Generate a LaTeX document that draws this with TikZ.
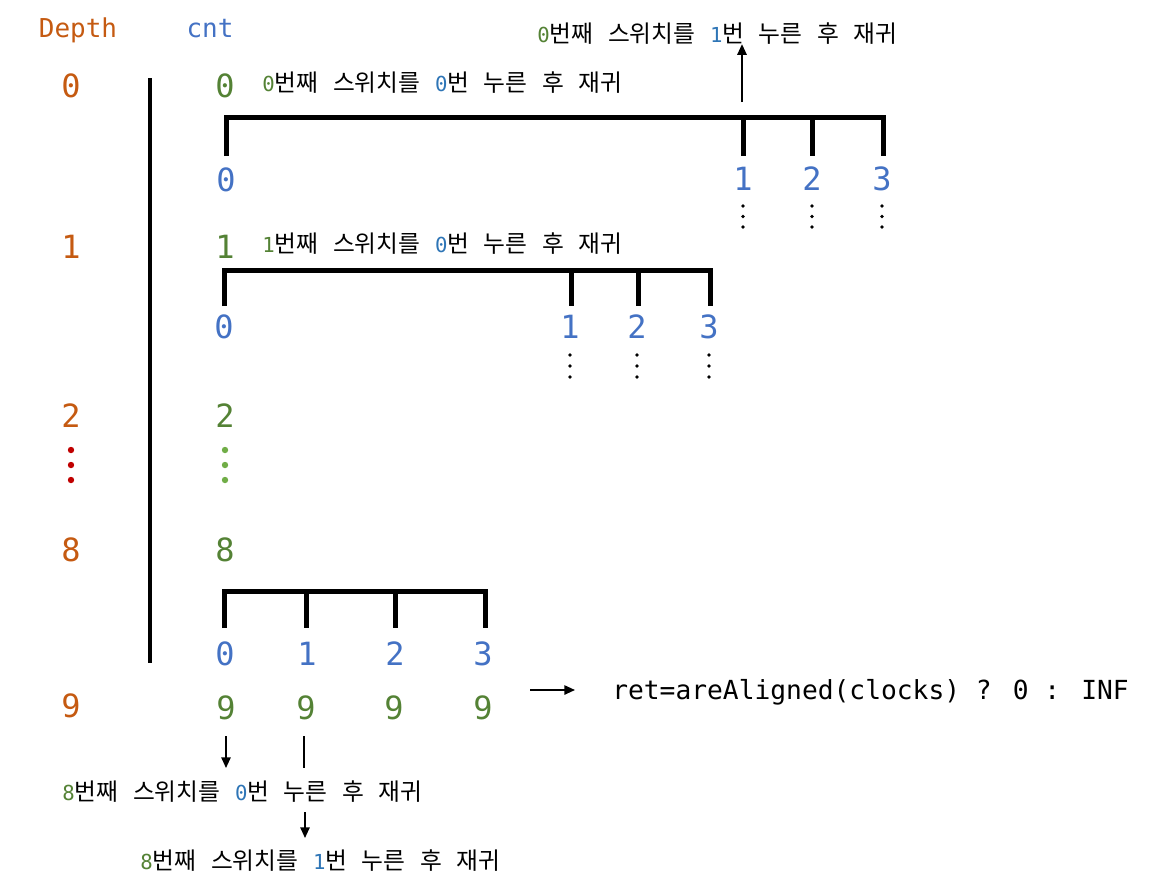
\documentclass[tikz,border=0pt]{standalone}
\usepackage{fontspec}
\newfontfamily\monof{DejaVu Sans Mono}
\newfontfamily\krfont{Noto Sans CJK KR}
\usetikzlibrary{arrows.meta}
\definecolor{cOr}{HTML}{C55A11}
\definecolor{cBl}{HTML}{4472C4}
\definecolor{cGr}{HTML}{548235}
\definecolor{cLg}{HTML}{70AD47}
\definecolor{cRd}{HTML}{C00000}
\definecolor{cLb}{HTML}{2E75B6}
\newcommand{\sdig}[2]{{\monof\fontsize{15.5}{15.5}\selectfont\color{#1}#2}}
\newcommand{\kr}[1]{{\krfont\fontsize{17.8}{17.8}\selectfont #1}}
\newcommand{\gap}{\hspace{11pt}}
\newcommand{\lbl}[2]{\sdig{cGr}{#1}\kr{번째}\gap\kr{스위치를}\gap\sdig{cLb}{#2}\kr{번}\gap\kr{누른}\gap\kr{후}\gap\kr{재귀}}
\tikzset{
  big/.style={inner sep=0pt, anchor=base, font=\monof\fontsize{24}{24}\selectfont},
  hdr/.style={inner sep=0pt, anchor=base, font=\monof\fontsize{19.5}{19.5}\selectfont},
  lab/.style={inner sep=0pt, anchor=base west},
  brk/.style={line width=3.75pt},
  arr/.style={line width=1.3pt, -{Triangle[length=8pt,width=7pt]}},
  pl/.style={line width=1.3pt},
}
\begin{document}
\begin{tikzpicture}[x=0.75pt,y=-0.75pt]
\useasboundingbox (0,0) rectangle (1153,890);
% headers
\node[hdr, text=cOr] (hdepth) at (78,37) {Depth};
\node[hdr, text=cBl] (hcnt) at (210,37) {cnt};
% depth column
\node[big, text=cOr] (d0) at (71,97) {0};
\node[big, text=cOr] (d1) at (71,258) {1};
\node[big, text=cOr] (d2) at (71,427) {2};
\node[big, text=cOr] (d8) at (71,561) {8};
\node[big, text=cOr] (d9) at (71,717) {9};
\foreach \y in {450,465,480} \fill[cRd] (71,\y) circle (3.2);
% separator
\draw[line width=2.3pt] (150,78) coordinate (sepT) -- (150,663) coordinate (sepB);
% cnt column
\node[big, text=cGr] (c0) at (225,97) {0};
\node[big, text=cGr] (c1) at (225,258) {1};
\node[big, text=cGr] (c2) at (225,427) {2};
\node[big, text=cGr] (c8) at (225,561) {8};
\foreach \y in {450,465,480} \fill[cLg] (225,\y) circle (3.2);
% labels
\node[lab] (l00) at (262,91) {\lbl{0}{0}};
\node[lab] (l01) at (537,42) {\lbl{0}{1}};
\node[lab] (l10) at (262,252) {\lbl{1}{0}};
% bracket 1
\draw[brk] (226,156) -- (226,117) -- (883,117) -- (883,156);
\draw[brk] (743,117) -- (743,156);
\draw[brk] (812,117) -- (812,156);
\node[big, text=cBl] (a0) at (226,191) {0};
\node[big, text=cBl] (a1) at (743,190) {1};
\node[big, text=cBl] (a2) at (812,190) {2};
\node[big, text=cBl] (a3) at (882,190) {3};
\foreach \x in {743,812,882} \foreach \y in {206,216.5,227} \fill (\x,\y) circle (1.8);
\coordinate (up0) at (742,102);
\draw[arr] (up0) -- (l01.south -| up0);
% bracket 2
\draw[brk] (224,306) -- (224,270) -- (710,270) -- (710,306);
\draw[brk] (571,270) -- (571,306);
\draw[brk] (638,270) -- (638,306);
\node[big, text=cBl] (b0) at (224,338) {0};
\node[big, text=cBl] (b1) at (570,338) {1};
\node[big, text=cBl] (b2) at (637,338) {2};
\node[big, text=cBl] (b3) at (709,338) {3};
\foreach \x in {570,637,709} \foreach \y in {355,366,377} \fill (\x,\y) circle (1.8);
% bracket 3
\draw[brk] (224,628) -- (224,591) -- (485,591) -- (485,628);
\draw[brk] (306,591) -- (306,628);
\draw[brk] (395,591) -- (395,628);
\node[big, text=cBl] (e0) at (225,665) {0};
\node[big, text=cBl] (e1) at (307,665) {1};
\node[big, text=cBl] (e2) at (395,665) {2};
\node[big, text=cBl] (e3) at (483,665) {3};
\node[big, text=cGr] (n0) at (226,719) {9};
\node[big, text=cGr] (n1) at (306,719) {9};
\node[big, text=cGr] (n2) at (394,719) {9};
\node[big, text=cGr] (n3) at (483,719) {9};
% result
\node[inner sep=0pt, anchor=base west, font=\monof\fontsize{19.7}{19.7}\selectfont] (ret) at (612,699) {ret=areAligned(clocks) ? 0 : INF};
\coordinate (rs) at (530,690);
\draw[arr] (rs) -- (575,690);
% bottom
\node[lab] (l80) at (62,800) {\lbl{8}{0}};
\node[lab] (l81) at (140,869) {\lbl{8}{1}};
\draw[arr] (226,736) -- (226,768);
\draw[pl] (304,736) -- (304,768);
\draw[arr] (305,812) -- (305,838);
\end{tikzpicture}
\end{document}
